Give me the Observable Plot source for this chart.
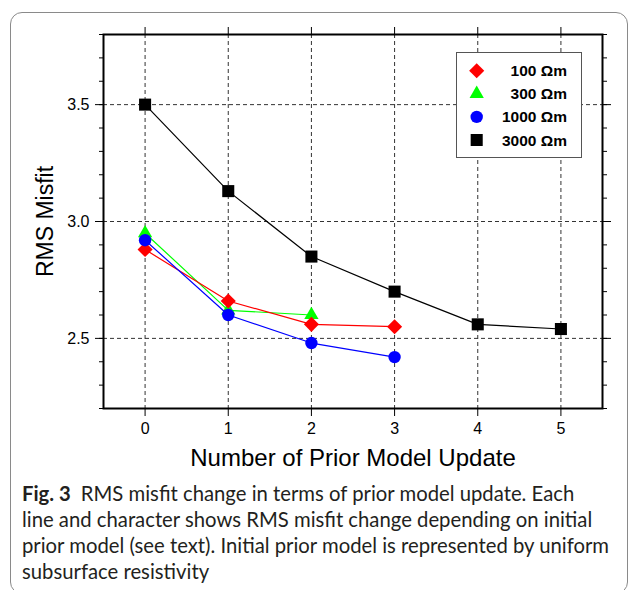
<!DOCTYPE html>
<html><head><meta charset="utf-8">
<script src="https://cdn.jsdelivr.net/npm/d3@7"></script>
<script src="https://cdn.jsdelivr.net/npm/@observablehq/plot@0.6"></script>
<style>
body{margin:0;background:#fff;width:630px;height:590px;overflow:hidden;position:relative;font-family:"Liberation Sans",Arial,sans-serif;}
#box{position:absolute;left:10px;top:12px;width:616px;height:580px;border:1px solid #8a8a8a;border-radius:12px;}
#chart{position:absolute;left:0;top:0;}
#legend{position:absolute;left:455px;top:51px;}
#caption{position:absolute;left:22px;top:480px;font-family:Lato,"Open Sans",sans-serif;font-size:20.3px;line-height:26px;color:#231f20;white-space:nowrap;}
#caption b{font-weight:700;margin-right:10px;}
</style></head><body>
<div id="box"></div>
<div id="chart"></div>
<svg id="legend" width="128" height="108"></svg>
<div id="caption"></div>
<script>
// ---- data ----
const updates = [0, 1, 2, 3, 4, 5];
const seriesNames = ["100 Ωm", "300 Ωm", "1000 Ωm", "3000 Ωm"];
const rms100 = [2.88, 2.66, 2.56, 2.55];
const rms300 = [2.95, 2.62, 2.60];
const rms1000 = [2.92, 2.60, 2.48, 2.42];
const rms3000 = [3.50, 3.13, 2.85, 2.70, 2.56, 2.54];
const xTicks = [0, 1, 2, 3, 4, 5];
const yMajorTicks = [2.5, 3.0, 3.5];
const yMinorTicks = [2.2, 2.3, 2.4, 2.5, 2.6, 2.7, 2.8, 2.9, 3.0, 3.1, 3.2, 3.3, 3.4, 3.5, 3.6, 3.7, 3.8];
const xLabel = "Number of Prior Model Update";
const yLabel = "RMS Misfit";
const captionBold = "Fig. 3";
const captionLines = [
  "RMS misfit change in terms of prior model update. Each",
  "line and character shows RMS misfit change depending on initial",
  "prior model (see text). Initial prior model is represented by uniform",
  "subsurface resistivity"
];

// ---- styles per series (not data) ----
const styles = {
  "100 Ωm": {color: "#ff0000", symbol: "diamond2", r: 6.8},
  "300 Ωm": {color: "#00ff00", symbol: "triangle", r: 5.3},
  "1000 Ωm": {color: "#0000ff", symbol: "circle", r: 6.2},
  "3000 Ωm": {color: "#000000", symbol: "square", r: 6.8}
};
const seriesValues = [rms100, rms300, rms1000, rms3000];
const rows = seriesNames.flatMap((s, i) => seriesValues[i].map((v, j) => ({x: updates[j], y: v, s})));
const drawOrder = ["3000 Ωm", "300 Ωm", "100 Ωm", "1000 Ωm"];

const gridStyle = {stroke: "#333", strokeOpacity: 1, strokeWidth: 1, strokeDasharray: "4,3"};
const blank = () => "";

const marks = [
  Plot.gridX(xTicks, gridStyle),
  Plot.gridY(yMajorTicks, gridStyle),
  Plot.axisX(xTicks, {anchor: "bottom", tickSize: 8, tickPadding: 6, fontSize: 16, label: null}),
  Plot.axisX(xTicks, {anchor: "top", tickSize: 8, tickFormat: blank, label: null}),
  Plot.axisX(xTicks, {anchor: "bottom", tickSize: 0, tickFormat: blank, label: xLabel, labelAnchor: "center", labelArrow: "none", labelOffset: 57, fontSize: 24}),
  Plot.axisY(yMajorTicks, {anchor: "left", tickSize: 8, tickPadding: 6, fontSize: 16, tickFormat: d3.format(".1f"), label: null}),
  Plot.axisY(yMinorTicks, {anchor: "left", tickSize: 4, tickFormat: blank, label: null}),
  Plot.axisY(yMajorTicks, {anchor: "right", tickSize: 8, tickFormat: blank, label: null}),
  Plot.axisY(yMinorTicks, {anchor: "right", tickSize: 4, tickFormat: blank, label: null}),
  Plot.axisY(yMajorTicks, {anchor: "left", tickSize: 0, tickFormat: blank, label: yLabel, labelAnchor: "center", labelArrow: "none", labelOffset: 67, fontSize: 23}),
  Plot.frame({stroke: "black", strokeWidth: 2})
];
for (const s of drawOrder) {
  const st = styles[s];
  const d = rows.filter(r => r.s === s);
  marks.push(Plot.line(d, {x: "x", y: "y", stroke: st.color, strokeWidth: 1.2}));
  marks.push(Plot.dot(d, {x: "x", y: "y", symbol: st.symbol, fill: st.color, stroke: "none", r: st.r}));
}

const chart = Plot.plot({
  width: 630,
  height: 490,
  marginLeft: 103,
  marginRight: 28,
  marginTop: 34,
  marginBottom: 82,
  style: {fontFamily: "'Liberation Sans', Arial, sans-serif", color: "black", background: "transparent", overflow: "visible"},
  x: {domain: [-0.5, 5.5]},
  y: {domain: [2.2, 3.8]},
  marks
});
document.getElementById("chart").appendChild(chart);

// ---- legend ----
const lg = d3.select("#legend");
lg.append("rect").attr("x", 1.5).attr("y", 1.5).attr("width", 125).attr("height", 105)
  .attr("fill", "white").attr("stroke", "#555").attr("stroke-width", 1);
const symMap = {diamond2: d3.symbolDiamond2, triangle: d3.symbolTriangle, circle: d3.symbolCircle, square: d3.symbolSquare};
seriesNames.forEach((s, i) => {
  const st = styles[s];
  const cy = 19.7 + i * 23.1;
  lg.append("path").attr("transform", `translate(21.7,${cy})`)
    .attr("d", d3.symbol(symMap[st.symbol], st.r * st.r * Math.PI)()).attr("fill", st.color);
  lg.append("text").attr("x", 112).attr("y", cy + 5.5).attr("text-anchor", "end")
    .attr("font-family", "'Liberation Sans', Arial, sans-serif").attr("font-weight", "bold")
    .attr("font-size", 15.5).text(s);
});

// ---- caption ----
const cap = document.getElementById("caption");
captionLines.forEach((line, i) => {
  const div = document.createElement("div");
  if (i === 0) {
    const b = document.createElement("b");
    b.textContent = captionBold;
    div.appendChild(b);
  }
  div.appendChild(document.createTextNode(line));
  cap.appendChild(div);
});
</script>
</body></html>
